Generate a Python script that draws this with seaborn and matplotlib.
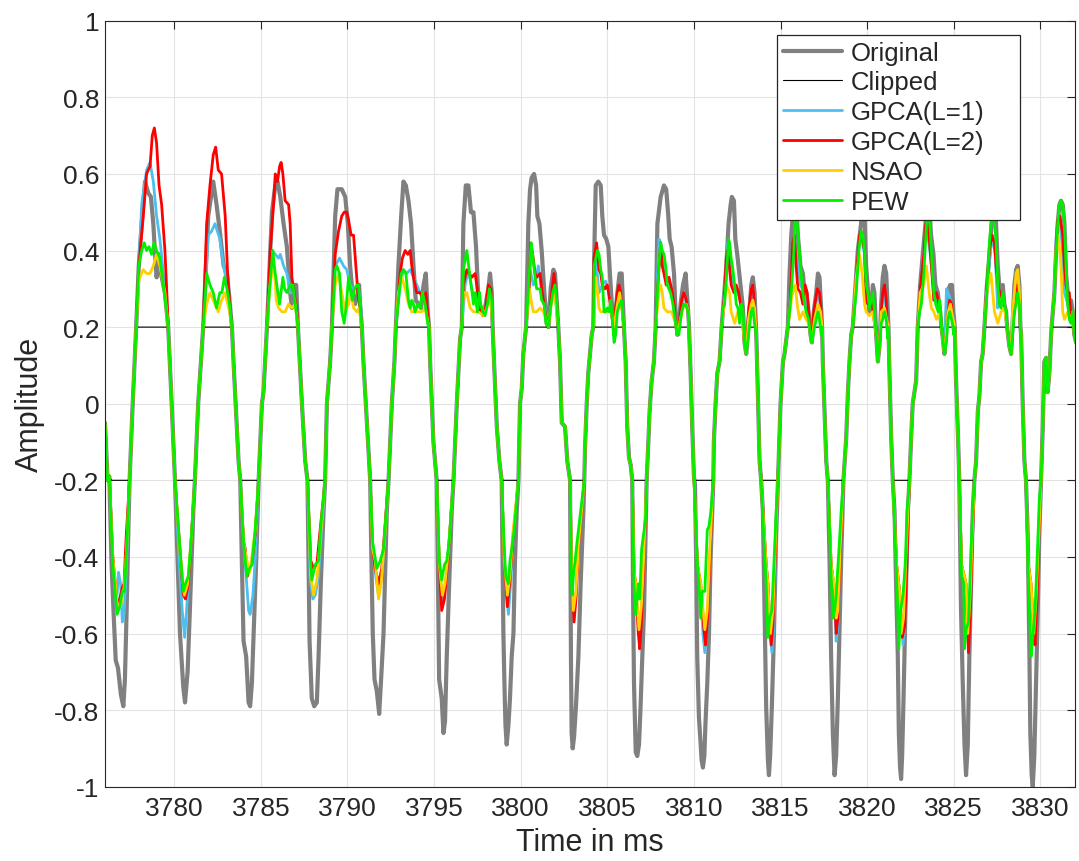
import numpy as np
import matplotlib
matplotlib.use("Agg")
import matplotlib.pyplot as plt
import seaborn as sns

# ---------------- data (time in ms, amplitude) ----------------
original_pts = [
    (3776.00, -0.05), (3776.15, -0.20), (3776.25, -0.19), (3776.38, -0.42), (3776.50, -0.55),
    (3776.62, -0.67), (3776.75, -0.69), (3776.92, -0.76), (3777.06, -0.79), (3777.15, -0.72),
    (3777.25, -0.54), (3777.35, -0.33), (3777.42, -0.20), (3777.60, 0.00), (3777.80, 0.20),
    (3777.95, 0.36), (3778.12, 0.47), (3778.31, 0.58), (3778.50, 0.55), (3778.65, 0.54),
    (3778.79, 0.47), (3778.89, 0.39), (3778.98, 0.33), (3779.12, 0.39), (3779.23, 0.34),
    (3779.46, 0.29), (3779.65, 0.20), (3779.85, 0.00), (3780.04, -0.20),
    (3780.14, -0.34), (3780.33, -0.60), (3780.52, -0.74), (3780.62, -0.78), (3780.77, -0.70),
    (3780.90, -0.54), (3781.10, -0.28), (3781.19, -0.20), (3781.38, 0.00), (3781.67, 0.20),
    (3781.96, 0.49), (3782.25, 0.58), (3782.44, 0.52), (3782.63, 0.45), (3782.85, 0.36),
    (3783.04, 0.34), (3783.19, 0.27), (3783.33, 0.20), (3783.42, 0.11), (3783.71, -0.15),
    (3783.81, -0.20),
    (3783.90, -0.41), (3784.00, -0.62), (3784.15, -0.66), (3784.29, -0.78), (3784.38, -0.79),
    (3784.48, -0.73), (3784.58, -0.60), (3784.73, -0.41), (3784.87, -0.20), (3785.06, 0.00),
    (3785.15, 0.03), (3785.35, 0.20),
    (3785.64, 0.50), (3785.83, 0.57), (3785.96, 0.58), (3786.12, 0.54), (3786.31, 0.47),
    (3786.50, 0.41), (3786.69, 0.29), (3786.79, 0.25), (3786.92, 0.31), (3787.04, 0.31),
    (3787.14, 0.20), (3787.37, 0.00), (3787.56, -0.15), (3787.69, -0.20),
    (3787.81, -0.62), (3787.94, -0.77), (3788.08, -0.79), (3788.23, -0.78), (3788.33, -0.66),
    (3788.46, -0.47), (3788.62, -0.28), (3788.71, -0.20), (3788.81, 0.00), (3789.00, 0.11),
    (3789.10, 0.20),
    (3789.29, 0.49), (3789.42, 0.56), (3789.67, 0.56), (3789.87, 0.54), (3790.02, 0.47),
    (3790.15, 0.36), (3790.29, 0.29), (3790.44, 0.26), (3790.60, 0.29), (3790.67, 0.31),
    (3790.73, 0.26), (3790.83, 0.20), (3790.92, 0.11), (3791.12, -0.05), (3791.31, -0.20),
    (3791.37, -0.38), (3791.46, -0.60), (3791.56, -0.72), (3791.69, -0.75), (3791.83, -0.81),
    (3791.94, -0.72), (3792.08, -0.60), (3792.27, -0.28), (3792.37, -0.20), (3792.56, 0.00),
    (3792.71, 0.11), (3792.79, 0.20),
    (3792.94, 0.36), (3793.10, 0.49), (3793.23, 0.58), (3793.37, 0.57), (3793.52, 0.53),
    (3793.67, 0.47), (3793.81, 0.36), (3793.94, 0.27), (3794.10, 0.26), (3794.25, 0.25),
    (3794.39, 0.31), (3794.52, 0.34), (3794.63, 0.24), (3794.71, 0.20), (3794.77, 0.11),
    (3794.96, -0.10), (3795.15, -0.20),
    (3795.21, -0.41), (3795.29, -0.72), (3795.44, -0.77), (3795.54, -0.86), (3795.63, -0.83),
    (3795.73, -0.66), (3795.87, -0.47), (3796.02, -0.28), (3796.12, -0.20), (3796.31, 0.00),
    (3796.50, 0.17), (3796.60, 0.20),
    (3796.69, 0.47), (3796.83, 0.57), (3796.98, 0.57), (3797.13, 0.50), (3797.27, 0.50),
    (3797.42, 0.41), (3797.56, 0.27), (3797.69, 0.25), (3797.81, 0.24), (3797.94, 0.25),
    (3798.13, 0.30), (3798.23, 0.34), (3798.33, 0.29), (3798.38, 0.20), (3798.46, 0.11),
    (3798.62, -0.06), (3798.77, -0.15), (3798.90, -0.20),
    (3799.00, -0.60), (3799.06, -0.73), (3799.12, -0.84), (3799.19, -0.89), (3799.29, -0.84),
    (3799.38, -0.77), (3799.48, -0.66), (3799.58, -0.60), (3799.67, -0.41), (3799.77, -0.28),
    (3799.87, -0.20), (3799.96, 0.00), (3800.06, 0.04), (3800.15, 0.13), (3800.31, 0.20),
    (3800.44, 0.47), (3800.54, 0.56), (3800.63, 0.59), (3800.77, 0.60), (3800.89, 0.57),
    (3800.96, 0.49), (3801.08, 0.47), (3801.21, 0.40), (3801.35, 0.30), (3801.50, 0.21),
    (3801.60, 0.20), (3801.73, 0.30), (3801.89, 0.35), (3801.98, 0.34), (3802.12, 0.24),
    (3802.17, 0.20), (3802.27, 0.11), (3802.37, -0.05), (3802.56, -0.06), (3802.69, -0.15),
    (3802.85, -0.20),
    (3802.90, -0.66), (3802.94, -0.86), (3803.00, -0.90), (3803.08, -0.87), (3803.19, -0.79),
    (3803.33, -0.66), (3803.46, -0.47), (3803.62, -0.28), (3803.67, -0.20), (3803.71, -0.12),
    (3803.81, 0.00), (3803.90, 0.08), (3804.10, 0.18), (3804.19, 0.20),
    (3804.25, 0.40), (3804.33, 0.57), (3804.48, 0.58), (3804.62, 0.57), (3804.71, 0.49),
    (3804.81, 0.44), (3804.94, 0.43), (3805.06, 0.41), (3805.19, 0.31), (3805.29, 0.24),
    (3805.39, 0.21), (3805.48, 0.24), (3805.58, 0.29), (3805.71, 0.34), (3805.83, 0.34),
    (3805.92, 0.24), (3805.96, 0.20), (3806.06, 0.11), (3806.15, -0.06), (3806.25, -0.14),
    (3806.35, -0.16), (3806.44, -0.20),
    (3806.48, -0.47), (3806.54, -0.73), (3806.60, -0.84), (3806.64, -0.91), (3806.73, -0.92),
    (3806.83, -0.89), (3806.92, -0.79), (3807.02, -0.66), (3807.12, -0.54), (3807.21, -0.34),
    (3807.27, -0.20), (3807.37, -0.10), (3807.44, -0.02), (3807.56, 0.06), (3807.69, 0.11),
    (3807.79, 0.20),
    (3807.89, 0.47), (3808.08, 0.54), (3808.27, 0.57), (3808.40, 0.56), (3808.52, 0.49),
    (3808.60, 0.43), (3808.71, 0.41), (3808.85, 0.34), (3808.94, 0.24), (3809.04, 0.18),
    (3809.13, 0.21), (3809.23, 0.26), (3809.37, 0.31), (3809.52, 0.34), (3809.62, 0.27),
    (3809.71, 0.21), (3809.81, 0.08), (3809.90, -0.06), (3810.00, -0.19), (3810.06, -0.21),
    (3810.13, -0.41), (3810.19, -0.66), (3810.29, -0.82), (3810.39, -0.89), (3810.44, -0.93),
    (3810.52, -0.95), (3810.60, -0.92), (3810.67, -0.83), (3810.77, -0.73), (3810.87, -0.60),
    (3810.96, -0.41), (3811.06, -0.28), (3811.12, -0.20), (3811.15, -0.10), (3811.25, 0.00),
    (3811.35, 0.08), (3811.48, 0.11), (3811.60, 0.20),
    (3811.67, 0.24), (3811.87, 0.36), (3812.00, 0.47), (3812.12, 0.52), (3812.19, 0.54),
    (3812.31, 0.53), (3812.39, 0.43), (3812.50, 0.39), (3812.64, 0.33), (3812.73, 0.29),
    (3812.83, 0.25), (3812.92, 0.16), (3813.02, 0.13), (3813.15, 0.21), (3813.31, 0.31),
    (3813.40, 0.33), (3813.50, 0.29), (3813.60, 0.18), (3813.69, 0.03), (3813.79, -0.15),
    (3813.88, -0.20),
    (3813.98, -0.28), (3814.08, -0.54), (3814.17, -0.79), (3814.27, -0.93), (3814.33, -0.97),
    (3814.40, -0.92), (3814.50, -0.79), (3814.62, -0.60), (3814.75, -0.34), (3814.85, -0.20),
    (3814.89, -0.15), (3815.00, 0.00), (3815.14, 0.11), (3815.23, 0.13), (3815.42, 0.20),
    (3815.52, 0.34), (3815.62, 0.44), (3815.71, 0.49), (3815.85, 0.58), (3816.00, 0.44),
    (3816.15, 0.36), (3816.29, 0.34), (3816.39, 0.29), (3816.48, 0.29), (3816.62, 0.24),
    (3816.73, 0.18), (3816.81, 0.16), (3816.92, 0.24), (3817.06, 0.29), (3817.16, 0.34),
    (3817.25, 0.33), (3817.35, 0.24), (3817.40, 0.20), (3817.44, 0.11), (3817.54, -0.02),
    (3817.64, -0.15), (3817.73, -0.20),
    (3817.83, -0.41), (3817.92, -0.66), (3818.02, -0.86), (3818.12, -0.97), (3818.21, -0.92),
    (3818.31, -0.77), (3818.40, -0.60), (3818.50, -0.41), (3818.63, -0.20), (3818.79, -0.09),
    (3818.89, 0.03), (3818.98, 0.11), (3819.08, 0.18), (3819.17, 0.20),
    (3819.37, 0.34), (3819.46, 0.40), (3819.65, 0.47), (3819.80, 0.57), (3819.94, 0.36),
    (3820.04, 0.30), (3820.13, 0.24), (3820.23, 0.24), (3820.33, 0.31), (3820.42, 0.29),
    (3820.52, 0.18), (3820.62, 0.11), (3820.71, 0.15), (3820.81, 0.26), (3820.90, 0.33),
    (3821.00, 0.36), (3821.10, 0.34), (3821.19, 0.24), (3821.23, 0.20), (3821.29, 0.08),
    (3821.39, -0.09), (3821.48, -0.20),
    (3821.58, -0.28), (3821.67, -0.47), (3821.77, -0.66), (3821.83, -0.86), (3821.90, -0.95),
    (3821.96, -0.98), (3822.02, -0.92), (3822.10, -0.77), (3822.21, -0.54), (3822.35, -0.28),
    (3822.44, -0.20), (3822.54, -0.09), (3822.63, 0.00), (3822.73, 0.03), (3822.83, 0.06),
    (3822.92, 0.20),
    (3823.06, 0.31), (3823.21, 0.39), (3823.37, 0.47), (3823.50, 0.58), (3823.69, 0.44),
    (3823.83, 0.39), (3823.94, 0.31), (3824.08, 0.29), (3824.21, 0.24), (3824.29, 0.20),
    (3824.37, 0.17), (3824.46, 0.13), (3824.60, 0.24), (3824.71, 0.30), (3824.79, 0.31),
    (3824.90, 0.31), (3824.98, 0.24), (3825.06, 0.20), (3825.12, 0.08), (3825.25, -0.09),
    (3825.32, -0.20),
    (3825.42, -0.54), (3825.52, -0.73), (3825.62, -0.89), (3825.71, -0.97), (3825.81, -0.89),
    (3825.90, -0.66), (3826.00, -0.47), (3826.10, -0.28), (3826.19, -0.20), (3826.29, -0.15),
    (3826.39, -0.02), (3826.48, 0.02), (3826.58, 0.11), (3826.67, 0.13), (3826.77, 0.20),
    (3826.90, 0.30), (3827.06, 0.39), (3827.19, 0.47), (3827.35, 0.57), (3827.54, 0.36),
    (3827.64, 0.30), (3827.73, 0.29), (3827.83, 0.31), (3827.92, 0.26), (3828.02, 0.24),
    (3828.08, 0.20), (3828.21, 0.15), (3828.31, 0.13), (3828.40, 0.21), (3828.50, 0.31),
    (3828.60, 0.35), (3828.69, 0.36), (3828.79, 0.31), (3828.85, 0.20), (3828.89, 0.18),
    (3828.98, 0.00), (3829.08, -0.15), (3829.17, -0.20),
    (3829.27, -0.34), (3829.37, -0.66), (3829.42, -0.86), (3829.50, -0.97), (3829.56, -1.00),
    (3829.65, -0.92), (3829.75, -0.73), (3829.85, -0.54), (3829.94, -0.34), (3830.04, -0.20),
    (3830.14, -0.06), (3830.23, 0.11), (3830.33, 0.12), (3830.42, 0.03), (3830.52, 0.08),
    (3830.62, 0.18), (3830.65, 0.20),
    (3830.81, 0.29), (3830.90, 0.39), (3831.00, 0.47), (3831.10, 0.52), (3831.19, 0.53),
    (3831.29, 0.52), (3831.39, 0.47), (3831.48, 0.34), (3831.58, 0.29), (3831.67, 0.24),
    (3831.77, 0.27), (3831.87, 0.24), (3831.96, 0.18), (3832.06, 0.16),
]

# reconstructed samples inside the clipped regions (|x| > 0.2) for each method
gpca1_pts = [
    (3776.45, -0.40), (3776.65, -0.53), (3776.78, -0.44), (3776.90, -0.47), (3777.00, -0.57), (3777.10, -0.55), (3777.25, -0.42),
    (3777.95, 0.36), (3778.12, 0.52), (3778.40, 0.61), (3778.60, 0.63), (3778.79, 0.58), (3778.98, 0.49), (3779.17, 0.43), (3779.37, 0.34), (3779.56, 0.24),
    (3780.33, -0.45), (3780.46, -0.54), (3780.60, -0.61), (3780.71, -0.54), (3780.90, -0.41),
    (3781.96, 0.44), (3782.15, 0.45), (3782.35, 0.47), (3782.63, 0.43), (3782.85, 0.36), (3783.04, 0.31), (3783.19, 0.25),
    (3784.00, -0.36), (3784.15, -0.45), (3784.29, -0.54), (3784.38, -0.55), (3784.54, -0.50), (3784.67, -0.41),
    (3785.50, 0.36), (3785.64, 0.40), (3785.83, 0.39), (3786.02, 0.38), (3786.12, 0.39), (3786.31, 0.36), (3786.50, 0.34), (3786.69, 0.29), (3786.92, 0.29), (3787.05, 0.24),
    (3787.85, -0.46), (3788.00, -0.51), (3788.14, -0.50), (3788.33, -0.45), (3788.46, -0.36),
    (3789.29, 0.36), (3789.54, 0.38), (3789.77, 0.36), (3789.96, 0.35), (3790.15, 0.31), (3790.35, 0.30), (3790.54, 0.30), (3790.67, 0.29), (3790.79, 0.24),
    (3791.45, -0.38), (3791.60, -0.44), (3791.79, -0.50), (3791.98, -0.45), (3792.13, -0.36),
    (3793.04, 0.31), (3793.23, 0.35), (3793.42, 0.34), (3793.62, 0.35), (3793.81, 0.33), (3794.00, 0.31), (3794.19, 0.29), (3794.39, 0.29), (3794.58, 0.26),
    (3795.30, -0.42), (3795.48, -0.51), (3795.63, -0.49), (3795.83, -0.38),
    (3796.79, 0.31), (3796.98, 0.35), (3797.17, 0.30), (3797.37, 0.27), (3797.56, 0.24), (3797.85, 0.24), (3798.13, 0.29), (3798.27, 0.29),
    (3799.05, -0.41), (3799.19, -0.50), (3799.29, -0.55), (3799.42, -0.47), (3799.58, -0.34),
    (3800.54, 0.35), (3800.73, 0.31), (3800.89, 0.33), (3801.02, 0.36), (3801.16, 0.31), (3801.31, 0.27), (3801.46, 0.24), (3801.73, 0.26), (3801.92, 0.29), (3802.04, 0.26),
    (3802.94, -0.45), (3803.04, -0.55), (3803.19, -0.50), (3803.33, -0.38),
    (3804.33, 0.39), (3804.42, 0.34), (3804.52, 0.29), (3804.62, 0.30), (3804.71, 0.31), (3804.90, 0.32), (3805.10, 0.29), (3805.29, 0.22), (3805.39, 0.20), (3805.58, 0.27), (3805.77, 0.29), (3805.87, 0.24),
    (3806.55, -0.44), (3806.64, -0.50), (3806.83, -0.59), (3806.98, -0.54), (3807.12, -0.41),
    (3807.98, 0.43), (3808.08, 0.42), (3808.17, 0.38), (3808.33, 0.33), (3808.52, 0.31), (3808.71, 0.29), (3808.94, 0.21), (3809.17, 0.21), (3809.37, 0.27), (3809.56, 0.27), (3809.67, 0.24),
    (3810.20, -0.42), (3810.39, -0.49), (3810.52, -0.60), (3810.63, -0.65), (3810.77, -0.58), (3810.92, -0.41),
    (3811.87, 0.36), (3811.96, 0.42), (3812.06, 0.40), (3812.15, 0.34), (3812.35, 0.30), (3812.54, 0.29), (3812.73, 0.26), (3812.85, 0.22), (3813.15, 0.24), (3813.31, 0.30), (3813.40, 0.31), (3813.50, 0.26),
    (3814.17, -0.42), (3814.27, -0.47), (3814.40, -0.60), (3814.50, -0.65), (3814.60, -0.59), (3814.71, -0.41),
    (3815.62, 0.33), (3815.71, 0.39), (3815.81, 0.44), (3816.00, 0.36), (3816.15, 0.31), (3816.35, 0.29), (3816.54, 0.26), (3816.65, 0.22), (3816.96, 0.24), (3817.16, 0.29), (3817.31, 0.26),
    (3817.92, -0.42), (3818.12, -0.50), (3818.21, -0.62), (3818.31, -0.58), (3818.44, -0.41),
    (3819.37, 0.33), (3819.56, 0.43), (3819.65, 0.44), (3819.85, 0.39), (3819.94, 0.30), (3820.13, 0.26), (3820.33, 0.26), (3820.42, 0.22), (3820.81, 0.25), (3821.00, 0.29), (3821.13, 0.23),
    (3821.70, -0.42), (3821.87, -0.49), (3821.96, -0.56), (3822.07, -0.63), (3822.17, -0.58), (3822.30, -0.41),
    (3823.06, 0.30), (3823.33, 0.43), (3823.46, 0.45), (3823.65, 0.39), (3823.85, 0.29), (3824.04, 0.26), (3824.19, 0.24), (3824.58, 0.30), (3824.67, 0.29), (3824.81, 0.27), (3824.96, 0.22),
    (3825.45, -0.42), (3825.71, -0.50), (3825.81, -0.61), (3825.94, -0.54), (3826.06, -0.38),
    (3826.90, 0.30), (3827.12, 0.40), (3827.25, 0.44), (3827.39, 0.39), (3827.54, 0.25), (3827.64, 0.29), (3827.83, 0.27), (3827.96, 0.25), (3828.40, 0.24), (3828.60, 0.31), (3828.79, 0.29),
    (3829.30, -0.42), (3829.46, -0.49), (3829.62, -0.61), (3829.75, -0.54), (3829.89, -0.38),
    (3830.81, 0.29), (3830.90, 0.42), (3831.00, 0.48), (3831.13, 0.49), (3831.29, 0.39), (3831.39, 0.29), (3831.58, 0.26), (3831.77, 0.22), (3831.87, 0.24),
]

gpca2_pts = [
    (3776.45, -0.40), (3776.70, -0.52), (3776.85, -0.51), (3777.00, -0.48), (3777.10, -0.47), (3777.22, -0.35),
    (3777.95, 0.36), (3778.21, 0.49), (3778.40, 0.60), (3778.60, 0.62), (3778.73, 0.70), (3778.85, 0.72), (3778.98, 0.68), (3779.12, 0.57), (3779.27, 0.52), (3779.46, 0.40), (3779.58, 0.28),
    (3780.33, -0.38), (3780.52, -0.50), (3780.65, -0.51), (3780.81, -0.47), (3781.00, -0.34),
    (3781.87, 0.47), (3782.06, 0.57), (3782.25, 0.65), (3782.39, 0.67), (3782.54, 0.61), (3782.73, 0.60), (3782.94, 0.49), (3783.08, 0.34), (3783.23, 0.24),
    (3784.00, -0.36), (3784.10, -0.38), (3784.23, -0.45), (3784.35, -0.43), (3784.48, -0.42), (3784.67, -0.34),
    (3785.54, 0.40), (3785.73, 0.52), (3785.83, 0.60), (3785.96, 0.58), (3786.08, 0.62), (3786.17, 0.63), (3786.27, 0.60), (3786.40, 0.53), (3786.60, 0.52), (3786.69, 0.47), (3786.79, 0.33), (3786.92, 0.29), (3787.08, 0.24),
    (3787.88, -0.41), (3788.04, -0.43), (3788.23, -0.42), (3788.42, -0.33),
    (3789.29, 0.39), (3789.48, 0.45), (3789.67, 0.49), (3789.81, 0.50), (3789.96, 0.50), (3790.06, 0.48), (3790.21, 0.44), (3790.35, 0.44), (3790.48, 0.36), (3790.60, 0.29), (3790.73, 0.25),
    (3791.45, -0.38), (3791.60, -0.43), (3791.79, -0.47), (3791.98, -0.43), (3792.13, -0.34),
    (3793.04, 0.34), (3793.17, 0.38), (3793.33, 0.40), (3793.48, 0.39), (3793.62, 0.40), (3793.71, 0.36), (3793.81, 0.33), (3794.00, 0.29), (3794.19, 0.29), (3794.39, 0.27), (3794.52, 0.29), (3794.63, 0.24),
    (3795.30, -0.42), (3795.44, -0.54), (3795.60, -0.51), (3795.79, -0.41),
    (3796.69, 0.31), (3796.89, 0.35), (3797.02, 0.34), (3797.17, 0.33), (3797.37, 0.34), (3797.46, 0.31), (3797.56, 0.27), (3797.69, 0.24), (3797.81, 0.23), (3797.94, 0.24), (3798.13, 0.31), (3798.27, 0.30),
    (3799.05, -0.41), (3799.23, -0.53), (3799.38, -0.46), (3799.54, -0.36),
    (3800.50, 0.31), (3800.58, 0.42), (3800.69, 0.39), (3800.83, 0.34), (3800.92, 0.33), (3801.12, 0.34), (3801.21, 0.30), (3801.35, 0.26), (3801.50, 0.21), (3801.69, 0.24), (3801.79, 0.29), (3801.92, 0.34), (3802.04, 0.29),
    (3802.94, -0.45), (3803.08, -0.57), (3803.19, -0.51), (3803.33, -0.38),
    (3804.23, 0.38), (3804.38, 0.42), (3804.52, 0.35), (3804.62, 0.34), (3804.71, 0.31), (3804.87, 0.30), (3805.00, 0.31), (3805.14, 0.27), (3805.29, 0.22), (3805.39, 0.18), (3805.48, 0.25), (3805.58, 0.29), (3805.67, 0.31), (3805.77, 0.29), (3805.87, 0.24),
    (3806.55, -0.44), (3806.64, -0.47), (3806.79, -0.60), (3806.87, -0.64), (3806.98, -0.56), (3807.12, -0.41),
    (3807.89, 0.29), (3808.08, 0.42), (3808.17, 0.36), (3808.27, 0.34), (3808.40, 0.31), (3808.56, 0.33), (3808.71, 0.30), (3808.85, 0.26), (3808.94, 0.21), (3809.13, 0.20), (3809.29, 0.27), (3809.42, 0.29), (3809.56, 0.27), (3809.67, 0.24),
    (3810.20, -0.42), (3810.39, -0.47), (3810.58, -0.59), (3810.67, -0.63), (3810.79, -0.56), (3810.92, -0.41),
    (3811.77, 0.29), (3811.87, 0.38), (3811.96, 0.40), (3812.06, 0.35), (3812.15, 0.31), (3812.31, 0.29), (3812.44, 0.31), (3812.58, 0.29), (3812.69, 0.26), (3812.77, 0.24), (3813.15, 0.24), (3813.31, 0.30), (3813.40, 0.31), (3813.50, 0.26), (3813.57, 0.21),
    (3814.17, -0.42), (3814.27, -0.47), (3814.37, -0.57), (3814.46, -0.63), (3814.56, -0.58), (3814.69, -0.41),
    (3815.52, 0.24), (3815.62, 0.33), (3815.71, 0.42), (3815.81, 0.44), (3815.90, 0.36), (3816.00, 0.30), (3816.15, 0.29), (3816.29, 0.26), (3816.42, 0.31), (3816.54, 0.29), (3816.62, 0.24), (3816.92, 0.24), (3817.12, 0.30), (3817.25, 0.29), (3817.35, 0.24),
    (3817.92, -0.42), (3818.12, -0.49), (3818.21, -0.60), (3818.31, -0.56), (3818.44, -0.41),
    (3819.37, 0.33), (3819.56, 0.44), (3819.65, 0.45), (3819.85, 0.40), (3819.94, 0.27), (3820.04, 0.26), (3820.17, 0.27), (3820.33, 0.25), (3820.42, 0.21), (3820.81, 0.24), (3820.90, 0.29), (3821.00, 0.31), (3821.10, 0.27), (3821.19, 0.18),
    (3821.70, -0.42), (3821.87, -0.49), (3822.03, -0.61), (3822.17, -0.58), (3822.30, -0.41),
    (3823.06, 0.30), (3823.27, 0.39), (3823.39, 0.47), (3823.52, 0.47), (3823.71, 0.36), (3823.85, 0.27), (3824.00, 0.29), (3824.15, 0.26), (3824.67, 0.24), (3824.77, 0.27), (3824.87, 0.26), (3824.96, 0.21),
    (3825.45, -0.42), (3825.71, -0.47), (3825.85, -0.65), (3825.96, -0.54), (3826.06, -0.38),
    (3826.90, 0.30), (3827.06, 0.40), (3827.19, 0.44), (3827.35, 0.42), (3827.44, 0.36), (3827.58, 0.30), (3827.69, 0.29), (3827.83, 0.27), (3827.96, 0.25), (3828.40, 0.20), (3828.54, 0.26), (3828.65, 0.31), (3828.79, 0.27),
    (3829.30, -0.42), (3829.46, -0.47), (3829.60, -0.58), (3829.69, -0.63), (3829.81, -0.51), (3829.92, -0.34),
    (3830.81, 0.29), (3830.90, 0.40), (3831.00, 0.48), (3831.13, 0.49), (3831.29, 0.44), (3831.39, 0.36), (3831.48, 0.31), (3831.58, 0.29), (3831.67, 0.29), (3831.77, 0.22), (3831.87, 0.24),
]

nsao_pts = [
    (3776.45, -0.40), (3776.72, -0.53), (3776.90, -0.53), (3777.00, -0.50), (3777.10, -0.48), (3777.25, -0.38),
    (3777.95, 0.32), (3778.02, 0.33), (3778.21, 0.35), (3778.40, 0.34), (3778.60, 0.34), (3778.79, 0.36), (3778.98, 0.39), (3779.17, 0.36), (3779.46, 0.29),
    (3780.33, -0.39), (3780.58, -0.50), (3780.77, -0.47), (3781.00, -0.34),
    (3781.87, 0.26), (3782.06, 0.29), (3782.35, 0.26), (3782.54, 0.24), (3782.73, 0.27), (3782.94, 0.29), (3783.19, 0.24),
    (3784.00, -0.36), (3784.15, -0.40), (3784.35, -0.44), (3784.48, -0.40), (3784.67, -0.33),
    (3785.50, 0.30), (3785.64, 0.34), (3785.77, 0.36), (3785.89, 0.27), (3786.02, 0.25), (3786.21, 0.24), (3786.40, 0.24), (3786.60, 0.26), (3786.79, 0.25), (3786.98, 0.26),
    (3787.88, -0.45), (3788.04, -0.50), (3788.23, -0.46), (3788.42, -0.36),
    (3789.29, 0.31), (3789.48, 0.34), (3789.67, 0.29), (3789.87, 0.24), (3790.06, 0.26), (3790.21, 0.29), (3790.35, 0.25), (3790.54, 0.24), (3790.67, 0.25),
    (3791.45, -0.38), (3791.60, -0.41), (3791.79, -0.51), (3791.94, -0.47), (3792.13, -0.36),
    (3792.94, 0.29), (3793.14, 0.33), (3793.33, 0.30), (3793.52, 0.26), (3793.71, 0.24), (3793.90, 0.24), (3794.10, 0.24), (3794.29, 0.24), (3794.48, 0.25),
    (3795.30, -0.42), (3795.48, -0.50), (3795.63, -0.47), (3795.83, -0.38),
    (3796.69, 0.29), (3796.89, 0.29), (3797.08, 0.25), (3797.27, 0.24), (3797.56, 0.24), (3797.85, 0.23), (3798.13, 0.26), (3798.27, 0.27),
    (3799.05, -0.41), (3799.23, -0.50), (3799.38, -0.45), (3799.54, -0.34),
    (3800.50, 0.30), (3800.64, 0.26), (3800.73, 0.24), (3800.92, 0.24), (3801.12, 0.25), (3801.31, 0.24), (3801.46, 0.22), (3801.73, 0.25), (3801.92, 0.29), (3802.04, 0.26),
    (3802.94, -0.45), (3803.04, -0.54), (3803.19, -0.49), (3803.33, -0.37),
    (3804.33, 0.33), (3804.42, 0.30), (3804.52, 0.25), (3804.62, 0.24), (3804.81, 0.24), (3805.00, 0.24), (3805.19, 0.25), (3805.39, 0.20), (3805.58, 0.26), (3805.71, 0.29), (3805.87, 0.24),
    (3806.55, -0.44), (3806.64, -0.47), (3806.83, -0.59), (3806.98, -0.52), (3807.12, -0.38),
    (3807.98, 0.29), (3808.08, 0.31), (3808.17, 0.29), (3808.27, 0.25), (3808.46, 0.24), (3808.71, 0.24), (3808.94, 0.21), (3809.17, 0.21), (3809.37, 0.25), (3809.56, 0.26), (3809.67, 0.24),
    (3810.20, -0.42), (3810.39, -0.47), (3810.63, -0.59), (3810.77, -0.54), (3810.92, -0.38),
    (3811.87, 0.31), (3812.06, 0.29), (3812.15, 0.24), (3812.35, 0.21), (3812.54, 0.24), (3812.73, 0.24), (3813.15, 0.22), (3813.31, 0.26), (3813.40, 0.27), (3813.50, 0.25),
    (3814.17, -0.42), (3814.27, -0.47), (3814.42, -0.60), (3814.56, -0.54), (3814.69, -0.38),
    (3815.62, 0.27), (3815.71, 0.29), (3815.85, 0.31), (3815.96, 0.26), (3816.10, 0.22), (3816.29, 0.24), (3816.48, 0.22), (3816.62, 0.21), (3816.96, 0.22), (3817.16, 0.26), (3817.31, 0.24),
    (3817.92, -0.42), (3818.12, -0.48), (3818.21, -0.56), (3818.31, -0.54), (3818.44, -0.38),
    (3819.37, 0.33), (3819.46, 0.36), (3819.56, 0.39), (3819.71, 0.34), (3819.85, 0.26), (3819.94, 0.24), (3820.13, 0.23), (3820.33, 0.24), (3820.42, 0.21), (3820.81, 0.24), (3821.00, 0.25), (3821.13, 0.22),
    (3821.70, -0.42), (3821.87, -0.49), (3821.96, -0.60), (3822.10, -0.56), (3822.26, -0.38),
    (3823.06, 0.29), (3823.27, 0.31), (3823.42, 0.36), (3823.58, 0.29), (3823.71, 0.25), (3823.85, 0.24), (3824.00, 0.22), (3824.19, 0.24), (3824.67, 0.24), (3824.81, 0.26), (3824.96, 0.22),
    (3825.45, -0.42), (3825.71, -0.47), (3825.81, -0.60), (3825.94, -0.51), (3826.06, -0.35),
    (3826.90, 0.29), (3827.15, 0.34), (3827.25, 0.29), (3827.35, 0.24), (3827.54, 0.21), (3827.73, 0.24), (3827.92, 0.25), (3828.40, 0.24), (3828.60, 0.34), (3828.69, 0.35), (3828.79, 0.29),
    (3829.30, -0.42), (3829.46, -0.47), (3829.62, -0.60), (3829.75, -0.51), (3829.89, -0.36),
    (3830.81, 0.29), (3830.90, 0.40), (3831.04, 0.44), (3831.19, 0.36), (3831.29, 0.24), (3831.39, 0.22), (3831.58, 0.24), (3831.77, 0.22), (3831.87, 0.24),
]

pew_pts = [
    (3776.45, -0.42), (3776.70, -0.55), (3776.85, -0.53), (3777.00, -0.49), (3777.12, -0.49), (3777.25, -0.38),
    (3777.95, 0.36), (3778.12, 0.40), (3778.27, 0.42), (3778.40, 0.40), (3778.54, 0.41), (3778.69, 0.39), (3778.83, 0.42), (3778.98, 0.40), (3779.17, 0.38), (3779.37, 0.31), (3779.56, 0.24),
    (3780.33, -0.38), (3780.52, -0.49), (3780.65, -0.47), (3780.81, -0.45), (3781.00, -0.34),
    (3781.87, 0.34), (3782.06, 0.31), (3782.25, 0.29), (3782.44, 0.25), (3782.63, 0.29), (3782.75, 0.29), (3782.89, 0.33), (3783.04, 0.30), (3783.19, 0.26),
    (3784.00, -0.36), (3784.10, -0.41), (3784.19, -0.45), (3784.35, -0.43), (3784.48, -0.42), (3784.67, -0.33),
    (3785.50, 0.30), (3785.69, 0.40), (3785.77, 0.36), (3785.92, 0.31), (3786.08, 0.26), (3786.27, 0.33), (3786.37, 0.30), (3786.50, 0.29), (3786.69, 0.31), (3786.85, 0.31), (3786.98, 0.26),
    (3787.88, -0.42), (3787.94, -0.46), (3788.14, -0.42), (3788.33, -0.41), (3788.46, -0.32),
    (3789.29, 0.35), (3789.38, 0.36), (3789.54, 0.34), (3789.67, 0.24), (3789.81, 0.21), (3789.92, 0.25), (3790.06, 0.33), (3790.15, 0.30), (3790.29, 0.27), (3790.40, 0.30), (3790.54, 0.31), (3790.63, 0.31), (3790.73, 0.25),
    (3791.45, -0.36), (3791.69, -0.43), (3791.79, -0.42), (3791.89, -0.41), (3792.08, -0.38), (3792.21, -0.30),
    (3792.94, 0.27), (3793.10, 0.34), (3793.23, 0.35), (3793.37, 0.34), (3793.52, 0.27), (3793.62, 0.25), (3793.71, 0.27), (3793.81, 0.26), (3793.90, 0.24), (3794.06, 0.26), (3794.19, 0.25), (3794.33, 0.29), (3794.48, 0.26), (3794.63, 0.21),
    (3795.30, -0.41), (3795.44, -0.46), (3795.60, -0.42), (3795.73, -0.41), (3795.87, -0.36),
    (3796.69, 0.35), (3796.89, 0.40), (3797.02, 0.35), (3797.17, 0.30), (3797.27, 0.26), (3797.37, 0.29), (3797.50, 0.24), (3797.62, 0.29), (3797.69, 0.26), (3797.81, 0.24), (3797.94, 0.23), (3798.08, 0.26), (3798.19, 0.30), (3798.33, 0.27),
    (3799.05, -0.38), (3799.14, -0.45), (3799.29, -0.47), (3799.38, -0.41), (3799.48, -0.38), (3799.62, -0.33),
    (3800.50, 0.34), (3800.60, 0.42), (3800.69, 0.39), (3800.83, 0.33), (3800.92, 0.30), (3801.12, 0.30), (3801.21, 0.27), (3801.35, 0.26), (3801.46, 0.21), (3801.69, 0.24), (3801.85, 0.29), (3801.98, 0.31), (3802.08, 0.27),
    (3802.92, -0.46), (3802.97, -0.50), (3803.04, -0.45), (3803.14, -0.41), (3803.23, -0.37), (3803.33, -0.33), (3803.46, -0.28),
    (3804.24, 0.36), (3804.43, 0.40), (3804.52, 0.39), (3804.62, 0.35), (3804.71, 0.33), (3804.81, 0.24), (3804.90, 0.24), (3805.00, 0.25), (3805.10, 0.24), (3805.19, 0.27), (3805.29, 0.22), (3805.39, 0.16), (3805.48, 0.18), (3805.58, 0.24), (3805.71, 0.26), (3805.83, 0.27), (3805.92, 0.22),
    (3806.54, -0.47), (3806.64, -0.55), (3806.79, -0.47), (3806.87, -0.51), (3806.98, -0.38), (3807.12, -0.33), (3807.21, -0.30),
    (3807.98, 0.36), (3808.08, 0.42), (3808.17, 0.40), (3808.27, 0.39), (3808.37, 0.36), (3808.46, 0.31), (3808.65, 0.29), (3808.79, 0.26), (3808.94, 0.21), (3809.13, 0.18), (3809.29, 0.24), (3809.42, 0.26), (3809.52, 0.26), (3809.67, 0.24),
    (3810.20, -0.42), (3810.29, -0.47), (3810.39, -0.56), (3810.48, -0.49), (3810.63, -0.49), (3810.77, -0.33), (3810.87, -0.32), (3810.98, -0.28),
    (3811.67, 0.25), (3811.77, 0.26), (3811.87, 0.33), (3812.00, 0.43), (3812.06, 0.42), (3812.15, 0.38), (3812.25, 0.35), (3812.35, 0.31), (3812.44, 0.26), (3812.54, 0.25), (3812.64, 0.21), (3812.73, 0.26), (3812.83, 0.24), (3813.15, 0.18), (3813.31, 0.24), (3813.40, 0.25), (3813.50, 0.21),
    (3814.17, -0.47), (3814.27, -0.61), (3814.37, -0.56), (3814.50, -0.54), (3814.65, -0.38), (3814.75, -0.28),
    (3815.52, 0.24), (3815.65, 0.31), (3815.77, 0.40), (3815.83, 0.50), (3815.96, 0.47), (3816.10, 0.39), (3816.19, 0.34), (3816.29, 0.29), (3816.39, 0.26), (3816.48, 0.24), (3816.62, 0.22), (3816.96, 0.20), (3817.16, 0.24), (3817.25, 0.22), (3817.35, 0.18),
    (3817.92, -0.45), (3818.02, -0.56), (3818.12, -0.54), (3818.21, -0.50), (3818.40, -0.36), (3818.50, -0.28),
    (3819.27, 0.25), (3819.37, 0.29), (3819.52, 0.40), (3819.65, 0.45), (3819.75, 0.44), (3819.85, 0.40), (3819.94, 0.31), (3820.04, 0.29), (3820.13, 0.25), (3820.23, 0.27), (3820.33, 0.29), (3820.42, 0.24), (3820.81, 0.21), (3820.90, 0.22), (3821.00, 0.24), (3821.10, 0.22), (3821.19, 0.17),
    (3821.70, -0.45), (3821.83, -0.64), (3821.93, -0.54), (3822.07, -0.50), (3822.21, -0.41), (3822.30, -0.28), (3822.40, -0.23),
    (3823.03, 0.24), (3823.13, 0.26), (3823.27, 0.34), (3823.39, 0.44), (3823.46, 0.49), (3823.58, 0.48), (3823.65, 0.45), (3823.77, 0.34), (3823.85, 0.29), (3823.96, 0.26), (3824.10, 0.24), (3824.19, 0.27), (3824.25, 0.24), (3824.58, 0.16), (3824.67, 0.22), (3824.77, 0.24), (3824.92, 0.21), (3825.00, 0.18),
    (3825.45, -0.45), (3825.58, -0.47), (3825.62, -0.64), (3825.71, -0.59), (3825.85, -0.57), (3826.00, -0.38), (3826.10, -0.27),
    (3826.87, 0.26), (3826.96, 0.34), (3827.06, 0.42), (3827.15, 0.47), (3827.25, 0.49), (3827.35, 0.47), (3827.44, 0.43), (3827.54, 0.31), (3827.64, 0.26), (3827.73, 0.25), (3827.83, 0.29), (3827.92, 0.26), (3828.02, 0.24), (3828.40, 0.18), (3828.50, 0.24), (3828.60, 0.26), (3828.69, 0.29), (3828.79, 0.26),
    (3829.30, -0.45), (3829.46, -0.66), (3829.56, -0.61), (3829.69, -0.54), (3829.81, -0.41), (3829.94, -0.25),
    (3830.81, 0.29), (3830.90, 0.39), (3831.00, 0.47), (3831.10, 0.52), (3831.19, 0.53), (3831.29, 0.52), (3831.39, 0.47), (3831.48, 0.36), (3831.58, 0.26), (3831.67, 0.22), (3831.77, 0.21), (3831.87, 0.24),
]

series_labels = ["Original", "Clipped", "GPCA(L=1)", "GPCA(L=2)", "NSAO", "PEW"]
clip_level = 0.2
x_limits = (3776, 3832)
x_ticks = [3780, 3785, 3790, 3795, 3800, 3805, 3810, 3815, 3820, 3825, 3830]
y_ticks = [-1, -0.8, -0.6, -0.4, -0.2, 0, 0.2, 0.4, 0.6, 0.8, 1]
x_label = "Time in ms"
y_label = "Amplitude"

# ---------------- style ----------------
sns.set_style("white")
plt.rcParams['font.family'] = ['Liberation Sans', 'DejaVu Sans']
plt.rcParams['axes.unicode_minus'] = False

t_orig, y_orig = np.array(original_pts).T
reliable = np.abs(y_orig) <= clip_level + 1e-9
y_clipped = np.clip(y_orig, -clip_level, clip_level)


def reconstruction(own_pts):
    """Reliable (unclipped) samples of the signal plus the method's estimates."""
    t_own, y_own = np.array(own_pts).T
    t = np.concatenate([t_orig[reliable], t_own])
    y = np.concatenate([y_orig[reliable], y_own])
    order = np.argsort(t, kind="stable")
    return t[order], y[order]


fig = plt.figure(figsize=(10.79, 8.62), dpi=100)
ax = fig.add_axes([0.0973, 0.0862, 0.899, 0.8886])

common = dict(ax=ax, estimator=None, sort=False)
sns.lineplot(x=t_orig, y=y_orig, color="#808080", linewidth=3.0, label=series_labels[0], **common)
sns.lineplot(x=t_orig, y=y_clipped, color="black", linewidth=0.8, label=series_labels[1], **common)
for pts, lab, col in [(gpca1_pts, series_labels[2], "#4DBEEE"),
                      (gpca2_pts, series_labels[3], "#FF0000"),
                      (nsao_pts, series_labels[4], "#FFCF00"),
                      (pew_pts, series_labels[5], "#00F000")]:
    tt, yy = reconstruction(pts)
    sns.lineplot(x=tt, y=yy, color=col, linewidth=2.0, label=lab, **common)

ax.set_xlim(*x_limits)
ax.set_ylim(-1, 1)
ax.set_xticks(x_ticks)
ax.set_yticks(y_ticks)
ax.set_xticklabels([str(v) for v in x_ticks])
ax.set_yticklabels([f"{v:g}" for v in y_ticks])
ax.grid(True, color="#e3e3e3", linewidth=0.8)
ax.set_axisbelow(True)
for s in ax.spines.values():
    s.set_color("#262626")
    s.set_linewidth(0.8)
ax.tick_params(direction="in", top=True, right=True, length=6, width=0.8,
               color="#262626", labelcolor="#262626", labelsize=19)
ax.tick_params(axis="x", pad=7)
ax.tick_params(axis="y", pad=4)

ax.set_xlabel(x_label, fontsize=22, color="#262626")
ax.set_ylabel(y_label, fontsize=22, color="#262626")
ax.xaxis.set_label_coords(0.5, -0.052)
ax.yaxis.set_label_coords(-0.062, 0.5)

leg = ax.legend(loc="upper left", bbox_to_anchor=(0.6928, 0.9815, 0.2505, 0.0), mode="expand",
                fontsize=18.5, frameon=True, fancybox=False, framealpha=1, edgecolor="#262626",
                borderpad=0.22, labelspacing=0.23, handlelength=2.3, handletextpad=0.35,
                borderaxespad=0.0)
leg.get_frame().set_linewidth(0.9)

fig.savefig("out.png", dpi=100)
